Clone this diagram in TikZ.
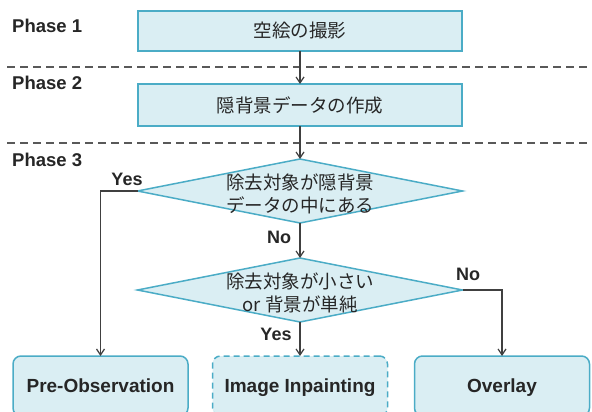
\documentclass[tikz,border=0pt]{standalone}
\usepackage{fontspec}
\setmainfont{Liberation Sans}
\newfontfamily\jp{Noto Sans CJK JP}
\usetikzlibrary{shapes.geometric,arrows.meta}
\definecolor{bfill}{HTML}{DAEEF3}
\definecolor{bdraw}{HTML}{4BACC6}
\definecolor{lcol}{HTML}{404040}
\definecolor{tcol}{HTML}{262626}
\definecolor{dcol}{HTML}{595959}
\begin{document}
\begin{tikzpicture}[x=1pt,y=-1pt,
  procbox/.style={draw=bdraw, fill=bfill, line width=1.5pt, minimum width=324pt, inner sep=0, outer sep=0, text=tcol, font=\jp\fontsize{18.5}{22}\selectfont},
  decision/.style={diamond, draw=bdraw, fill=bfill, line width=1.5pt, minimum width=325pt, minimum height=64pt, inner sep=0, outer sep=0},
  dtext/.style={align=center, text=tcol, font=\jp\fontsize{18.5}{23.5}\selectfont, inner sep=0},
  endbox/.style={draw=bdraw, fill=bfill, line width=1.5pt, rounded corners=8pt, minimum width=175pt, minimum height=60pt, inner sep=0, outer sep=0, text=tcol, font=\bfseries\fontsize{19}{22}\selectfont, text height=13.6pt, text depth=0pt},
  phase/.style={anchor=base west, inner sep=0, text=tcol, font=\bfseries\fontsize{18.5}{22}\selectfont},
  lbl/.style={anchor=base, inner sep=0, text=tcol, font=\bfseries\fontsize{18}{22}\selectfont},
  arr/.style={draw=lcol, line width=1.2pt, -{Straight Barb[length=6pt,width=8pt]}},
  sep/.style={draw=dcol, line width=1.2pt, dash pattern=on 8pt off 5pt}
]
\useasboundingbox (0,0) rectangle (592,412);

% phase separators
\coordinate (s1a) at (7,67);
\coordinate (s1b) at (592,67);
\coordinate (s2a) at (7,143);
\coordinate (s2b) at (592,143);
\draw[sep] (s1a) -- (s1b);
\draw[sep] (s2a) -- (s2b);

% phase labels
\node[phase] (ph1) at (12,33) {Phase 1};
\node[phase] (ph2) at (12,90) {Phase 2};
\node[phase] (ph3) at (12,166) {Phase 3};

% process boxes
\node[procbox, minimum height=40pt] (b1) at (300,31) {空絵の撮影};
\node[procbox, minimum height=42pt] (b2) at (300,105) {隠背景データの作成};

% decisions
\node[decision] (d1) at (300,191) {};
\node[dtext] (t1) at (300,194) {除去対象が隠背景\\データの中にある};
\node[decision] (d2) at (300,290) {};
\node[dtext] (t2) at (300,293) {除去対象が小さい\\or 背景が単純};

% end boxes
\node[endbox] (pa) at (100.5,386) {Pre-Observation};
\node[endbox, dash pattern=on 6pt off 4pt] (pb) at (300,386) {Image Inpainting};
\node[endbox] (pc) at (502,386) {Overlay};

% connectors
\draw[arr] (b1) -- (b2);
\draw[arr] (b2) -- (d1);
\draw[arr] (d1) -- (d2);
\draw[arr] (d1.west) -| (pa.north);
\draw[arr] (d2) -- (pb);
\draw[arr] (d2.east) -| (pc.north);

% connector labels
\node[lbl] (y1) at (127,185) {Yes};
\node[lbl] (n1) at (279,243) {No};
\node[lbl] (n2) at (468,280) {No};
\node[lbl] (y2) at (276,340) {Yes};
\end{tikzpicture}
\end{document}
